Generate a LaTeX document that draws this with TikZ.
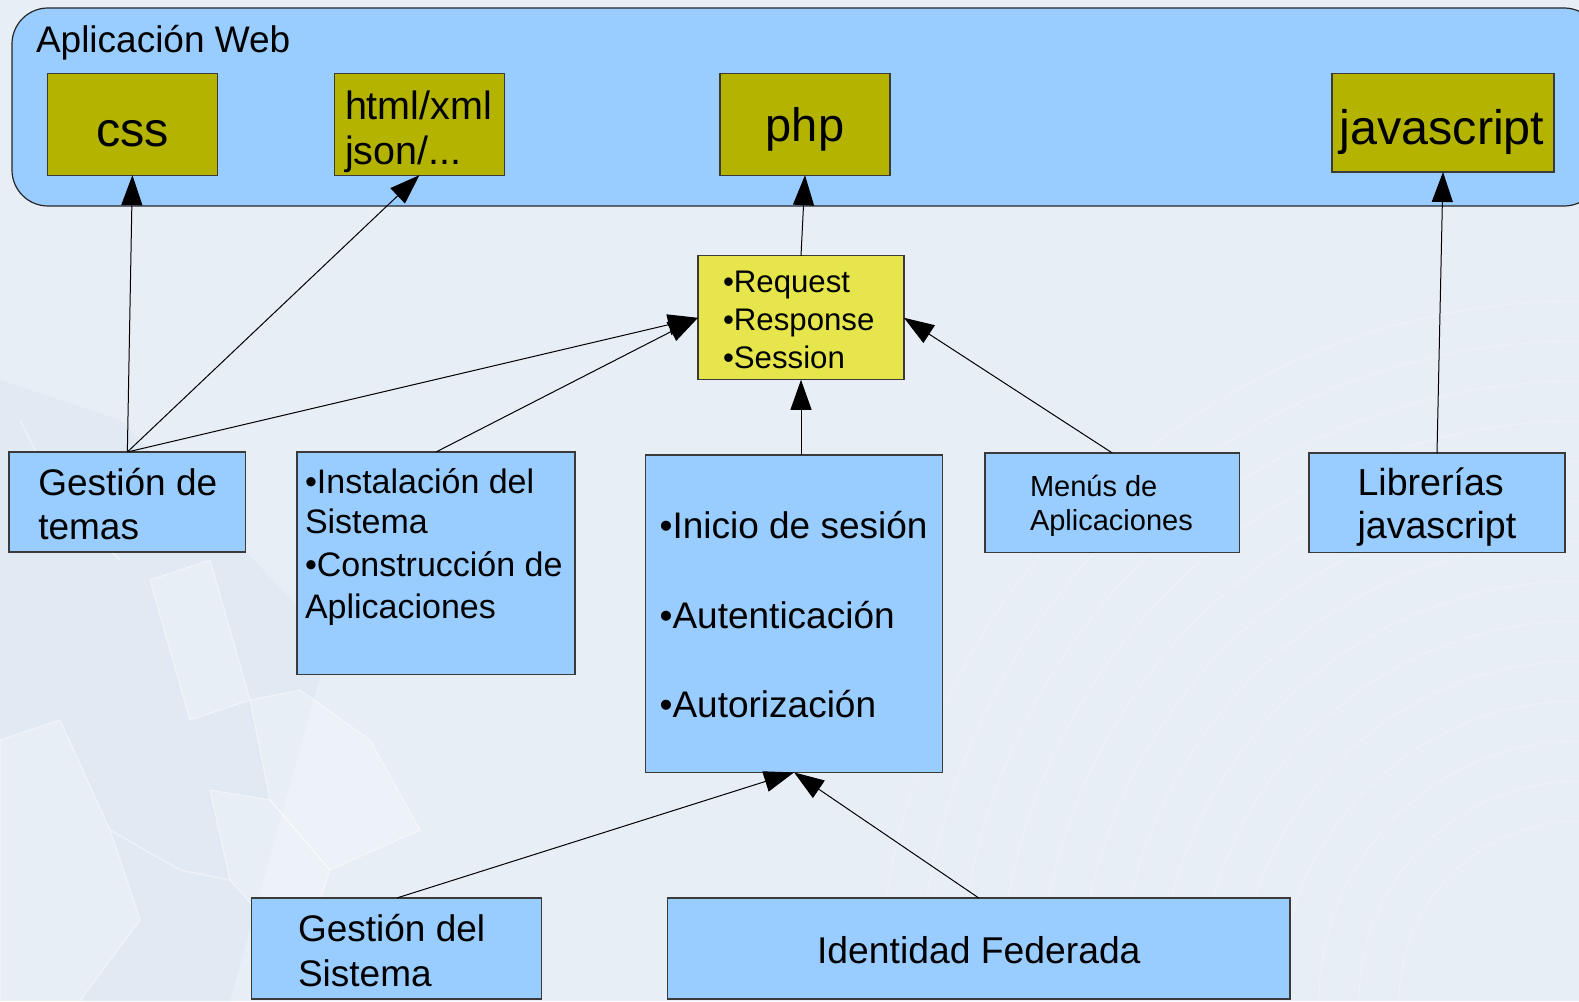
\documentclass[tikz,border=0pt]{standalone}
\usepackage{fontspec}
\setmainfont{Liberation Sans}
\usetikzlibrary{arrows.meta,calc}
\definecolor{bgc}{HTML}{E8EEF6}
\definecolor{bgdark}{HTML}{DCE5EF}
\definecolor{boxblue}{HTML}{99CCFF}
\definecolor{olive}{HTML}{B3B300}
\definecolor{yel}{HTML}{E6E64C}
\definecolor{edge}{HTML}{3A3A3A}
\newcommand\setfs[1]{\fontsize{#1}{#1}\selectfont}
\tikzset{
  bluebox/.style={draw=edge, line width=1.2pt, fill=boxblue, inner sep=0pt, outer sep=0pt, anchor=north west},
  olivebox/.style={draw=edge, line width=1.2pt, fill=olive, inner sep=0pt, outer sep=0pt, anchor=north west},
  yelbox/.style={draw=edge, line width=1.2pt, fill=yel, inner sep=0pt, outer sep=0pt, anchor=north west},
  txt/.style={anchor=base west, inner sep=0pt, outer sep=0pt, text=black},
  ctxt/.style={anchor=base, inner sep=0pt, outer sep=0pt, text=black},
  arr/.style={-{Triangle[length=30pt,width=21pt]}, line width=1pt, black},
  deco/.style={fill=white, opacity=0.25, draw=white, draw opacity=0.5, line width=1pt},
  decoline/.style={draw=white, opacity=0.45, line width=1.5pt},
}
\begin{document}
\begin{tikzpicture}[x=1pt,y=-1pt]
\useasboundingbox (0,0) rectangle (1579,1001);
% background
\fill[bgc] (0,0) rectangle (1579,1001);
\fill[bgdark, opacity=0.5] (0,380) -- (120,420) -- (330,640) -- (230,1001) -- (0,1001) -- cycle;
% faint cube shapes
\fill[deco] (150,580) -- (210,560) -- (250,700) -- (190,720) -- cycle;
\fill[deco] (250,700) -- (300,690) -- (370,740) -- (420,830) -- (330,870) -- (270,800) -- cycle;
\fill[deco] (210,790) -- (270,800) -- (330,870) -- (300,960) -- (230,880) -- cycle;
\fill[deco] (0,740) -- (60,720) -- (110,830) -- (140,920) -- (80,1001) -- (0,1001) -- cycle;
\fill[deco] (330,560) -- (420,520) -- (480,600) -- (420,650) -- (360,640) -- cycle;
\draw[decoline] (20,420) -- (60,500) -- (120,560);
\draw[decoline] (110,830) -- (180,870) -- (230,880);
\foreach \r in {180,220,...,700}{
  \draw[white, opacity=0.25, line width=1pt] (1579,1001) ++(180:\r) arc[start angle=180, end angle=270, radius=\r];
}
% outer container
\draw[draw=black!85, line width=1.2pt, fill=boxblue, rounded corners=36pt] (12,8) rectangle (1600,206);
\node[txt, font=\setfs{37}] (webl) at (36,52) {Aplicación Web};
% top boxes
\node[olivebox, minimum width=170.2pt, minimum height=101.7pt] (css) at (47.3,73.5) {};
\node[olivebox, minimum width=170.2pt, minimum height=101.7pt] (html) at (334.3,73.5) {};
\node[olivebox, minimum width=170pt, minimum height=101.7pt] (php) at (720,73.5) {};
\node[olivebox, minimum width=222pt, minimum height=98.5pt] (js) at (1332,73.5) {};
\node[ctxt, font=\setfs{48.5}] (cssl) at (132.4,146) {css};
\node[txt, font=\setfs{39.5}] (htmla) at (345,119) {html/xml};
\node[txt, font=\setfs{39.5}] (htmlb) at (345,164) {json/...};
\node[ctxt, font=\setfs{47}] (phpl) at (805,141) {php};
\node[ctxt, font=\setfs{48.5}] (jsl) at (1442,144) {javascript};
% yellow box
\node[yelbox, minimum width=206pt, minimum height=124pt] (yb) at (698,255.8) {};
\node[txt, font=\setfs{31.2}] (ya) at (723,292) {•Request};
\node[txt, font=\setfs{31.2}] (ybb) at (723,330) {•Response};
\node[txt, font=\setfs{31.2}] (yc) at (723,368.5) {•Session};
% middle row
\node[bluebox, minimum width=236.7pt, minimum height=100pt] (gt) at (9,452) {};
\node[txt, font=\setfs{37}] (gta) at (38.3,495.4) {Gestión de};
\node[txt, font=\setfs{37}] (gtb) at (38.3,539.7) {temas};
\node[bluebox, minimum width=278pt, minimum height=222.7pt] (inst) at (297,452) {};
\node[txt, font=\setfs{34}] (ia) at (305,493.4) {•Instalación del};
\node[txt, font=\setfs{34}] (ib) at (305,533.7) {Sistema};
\node[txt, font=\setfs{34}] (ic) at (305,576) {•Construcción de};
\node[txt, font=\setfs{34}] (id) at (305,618) {Aplicaciones};
\node[bluebox, minimum width=297.1pt, minimum height=317.4pt] (ini) at (645.5,455) {};
\node[txt, font=\setfs{37}] (na) at (659.6,538.7) {•Inicio de sesión};
\node[txt, font=\setfs{37}] (nb) at (659.6,628.4) {•Autenticación};
\node[txt, font=\setfs{37}] (nc) at (659.6,717) {•Autorización};
\node[bluebox, minimum width=254.6pt, minimum height=99.8pt] (men) at (985,453) {};
\node[txt, font=\setfs{29}] (ma) at (1030,496.5) {Menús de};
\node[txt, font=\setfs{29}] (mb) at (1030,530.7) {Aplicaciones};
\node[bluebox, minimum width=256pt, minimum height=99.8pt] (lib) at (1309,453) {};
\node[txt, font=\setfs{37.6}] (la) at (1357.5,495.4) {Librerías};
\node[txt, font=\setfs{37.6}] (lb) at (1357.5,538.7) {javascript};
% bottom row
\node[bluebox, minimum width=290pt, minimum height=101pt] (gs) at (251.8,898) {};
\node[txt, font=\setfs{37}] (gsa) at (298,941.5) {Gestión del};
\node[txt, font=\setfs{37}] (gsb) at (298,986.9) {Sistema};
\node[bluebox, minimum width=622.4pt, minimum height=101pt] (idf) at (667.6,898) {};
\node[ctxt, font=\setfs{37.3}] (idfl) at (978.8,963.7) {Identidad Federada};
% connectors
\draw[arr] (gt.north) -- (css.south);
\draw[arr] (gt.north) -- (html.south);
\draw[arr] (gt.north) -- (yb.west);
\draw[arr] (inst.north) -- (yb.west);
\draw[arr] (yb.south |- ini.north) -- (yb.south);
\draw[arr] (men.north) -- (yb.east);
\draw[arr] (yb.north) -- (php.south);
\draw[arr] (lib.north) -- (js.south);
\draw[arr] (gs.north) -- (ini.south);
\draw[arr] (idf.north) -- (ini.south);
\end{tikzpicture}
\end{document}
